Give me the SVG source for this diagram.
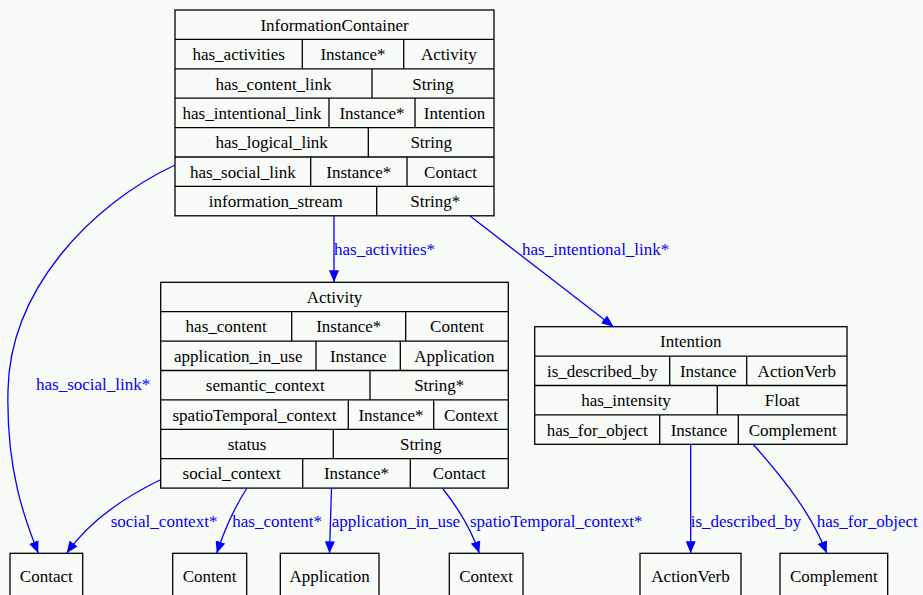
<svg xmlns="http://www.w3.org/2000/svg" width="923" height="595" viewBox="0 0 923 595">
<defs>
<marker id="ah" markerUnits="userSpaceOnUse" markerWidth="12" markerHeight="10" refX="12" refY="5" orient="auto" viewBox="0 0 12 10">
<path d="M0,0 L12,5 L0,10 z" fill="#0000ff"/>
</marker>
</defs>
<rect x="0" y="0" width="923" height="595" fill="#f9fbf9"/>

<g id="nodes" text-anchor="middle" fill="#000" stroke-width="1.3">
<g id="InformationContainer">
<rect fill="none" stroke="#000" x="175" y="10" width="319" height="205.8"/>
<path fill="none" stroke="#000" d="M175,39.4H494M175,68.8H494M175,98.2H494M175,127.6H494M175,157H494M175,186.4H494M302.3,39.4V68.8M403.7,39.4V68.8M372,68.8V98.2M329,98.2V127.6M415,98.2V127.6M368.3,127.6V157M310.7,157V186.4M407,157V186.4M376.7,186.4V215.8"/>
<text font-family="Liberation Serif, serif" font-size="17" x="334.5" y="30.7">InformationContainer</text>
<text font-family="Liberation Serif, serif" font-size="17" x="238.7" y="60.1">has_activities</text>
<text font-family="Liberation Serif, serif" font-size="17" x="353" y="60.1">Instance*</text>
<text font-family="Liberation Serif, serif" font-size="17" x="448.8" y="60.1">Activity</text>
<text font-family="Liberation Serif, serif" font-size="17" x="273.5" y="89.5">has_content_link</text>
<text font-family="Liberation Serif, serif" font-size="17" x="433" y="89.5">String</text>
<text font-family="Liberation Serif, serif" font-size="17" x="252" y="118.9">has_intentional_link</text>
<text font-family="Liberation Serif, serif" font-size="17" x="372" y="118.9">Instance*</text>
<text font-family="Liberation Serif, serif" font-size="17" x="454.5" y="118.9">Intention</text>
<text font-family="Liberation Serif, serif" font-size="17" x="271.7" y="148.3">has_logical_link</text>
<text font-family="Liberation Serif, serif" font-size="17" x="431.2" y="148.3">String</text>
<text font-family="Liberation Serif, serif" font-size="17" x="242.8" y="177.7">has_social_link</text>
<text font-family="Liberation Serif, serif" font-size="17" x="358.8" y="177.7">Instance*</text>
<text font-family="Liberation Serif, serif" font-size="17" x="450.5" y="177.7">Contact</text>
<text font-family="Liberation Serif, serif" font-size="17" x="275.8" y="207.1">information_stream</text>
<text font-family="Liberation Serif, serif" font-size="17" x="435.3" y="207.1">String*</text>
</g>

<g id="Activity">
<rect fill="none" stroke="#000" x="160.7" y="282.3" width="347.6" height="205.8"/>
<path fill="none" stroke="#000" d="M160.7,311.7H508.3M160.7,341.1H508.3M160.7,370.5H508.3M160.7,399.9H508.3M160.7,429.3H508.3M160.7,458.7H508.3M291.7,311.7V341.1M405.7,311.7V341.1M316,341.1V370.5M400.3,341.1V370.5M370,370.5V399.9M348.3,399.9V429.3M433.7,399.9V429.3M333.3,429.3V458.7M302.7,458.7V488.1M410.3,458.7V488.1"/>
<text font-family="Liberation Serif, serif" font-size="17" x="334.5" y="303">Activity</text>
<text font-family="Liberation Serif, serif" font-size="17" x="226.2" y="332.4">has_content</text>
<text font-family="Liberation Serif, serif" font-size="17" x="348.7" y="332.4">Instance*</text>
<text font-family="Liberation Serif, serif" font-size="17" x="457" y="332.4">Content</text>
<text font-family="Liberation Serif, serif" font-size="17" x="238.3" y="361.8">application_in_use</text>
<text font-family="Liberation Serif, serif" font-size="17" x="358.2" y="361.8">Instance</text>
<text font-family="Liberation Serif, serif" font-size="17" x="454.3" y="361.8">Application</text>
<text font-family="Liberation Serif, serif" font-size="17" x="265.3" y="391.2">semantic_context</text>
<text font-family="Liberation Serif, serif" font-size="17" x="439.2" y="391.2">String*</text>
<text font-family="Liberation Serif, serif" font-size="17" x="254.5" y="420.6">spatioTemporal_context</text>
<text font-family="Liberation Serif, serif" font-size="17" x="391" y="420.6">Instance*</text>
<text font-family="Liberation Serif, serif" font-size="17" x="471" y="420.6">Context</text>
<text font-family="Liberation Serif, serif" font-size="17" x="247" y="450">status</text>
<text font-family="Liberation Serif, serif" font-size="17" x="420.8" y="450">String</text>
<text font-family="Liberation Serif, serif" font-size="17" x="231.7" y="479.4">social_context</text>
<text font-family="Liberation Serif, serif" font-size="17" x="356.5" y="479.4">Instance*</text>
<text font-family="Liberation Serif, serif" font-size="17" x="459.3" y="479.4">Contact</text>
</g>

<g id="Intention">
<rect fill="none" stroke="#000" x="534.7" y="326.7" width="312.3" height="117.6"/>
<path fill="none" stroke="#000" d="M534.7,356.1H847M534.7,385.5H847M534.7,414.9H847M669.7,356.1V385.5M746.7,356.1V385.5M717.3,385.5V414.9M659.7,414.9V444.3M738.3,414.9V444.3"/>
<text font-family="Liberation Serif, serif" font-size="17" x="690.8" y="347.4">Intention</text>
<text font-family="Liberation Serif, serif" font-size="17" x="602.2" y="376.8">is_described_by</text>
<text font-family="Liberation Serif, serif" font-size="17" x="708.2" y="376.8">Instance</text>
<text font-family="Liberation Serif, serif" font-size="17" x="796.8" y="376.8">ActionVerb</text>
<text font-family="Liberation Serif, serif" font-size="17" x="626" y="406.2">has_intensity</text>
<text font-family="Liberation Serif, serif" font-size="17" x="782.2" y="406.2">Float</text>
<text font-family="Liberation Serif, serif" font-size="17" x="597.2" y="435.6">has_for_object</text>
<text font-family="Liberation Serif, serif" font-size="17" x="699" y="435.6">Instance</text>
<text font-family="Liberation Serif, serif" font-size="17" x="792.7" y="435.6">Complement</text>
</g>

<g id="Contact">
<rect fill="none" stroke="#000" x="10" y="553.3" width="72.7" height="46"/>
<text font-family="Liberation Serif, serif" font-size="17" x="46.3" y="582">Contact</text>
</g>
<g id="Content">
<rect fill="none" stroke="#000" x="172.7" y="553.3" width="74" height="46"/>
<text font-family="Liberation Serif, serif" font-size="17" x="209.7" y="582">Content</text>
</g>
<g id="Application">
<rect fill="none" stroke="#000" x="280.3" y="553.3" width="98.7" height="46"/>
<text font-family="Liberation Serif, serif" font-size="17" x="329.7" y="582">Application</text>
</g>
<g id="Context">
<rect fill="none" stroke="#000" x="449.3" y="553.3" width="73.7" height="46"/>
<text font-family="Liberation Serif, serif" font-size="17" x="486.2" y="582">Context</text>
</g>
<g id="ActionVerb">
<rect fill="none" stroke="#000" x="640" y="553.3" width="101" height="46"/>
<text font-family="Liberation Serif, serif" font-size="17" x="690.5" y="582">ActionVerb</text>
</g>
<g id="Complement">
<rect fill="none" stroke="#000" x="780" y="553.3" width="107.7" height="46"/>
<text font-family="Liberation Serif, serif" font-size="17" x="833.8" y="582">Complement</text>
</g>
</g>

<g id="connectors" fill="none" stroke="#0000ff" stroke-width="1.3">
<path marker-end="url(#ah)" d="M334,216 L334,282.3"/>
<path marker-end="url(#ah)" d="M470,216 L613.5,326.7"/>
<path marker-end="url(#ah)" d="M175,165 C90,205 10,290 8,390 C6,470 25,520 38.3,553.3"/>
<path marker-end="url(#ah)" d="M160,480 C125,497 90,520 66.7,553.3"/>
<path marker-end="url(#ah)" d="M247,488 C238,502 226,525 216.7,553.3"/>
<path marker-end="url(#ah)" d="M331.5,488 L329.5,553.3"/>
<path marker-end="url(#ah)" d="M443,489 C458,508 471,528 479.3,553.3"/>
<path marker-end="url(#ah)" d="M690.7,444.3 L690.7,553.3"/>
<path marker-end="url(#ah)" d="M753,444.3 C785,480 812,515 826.7,553.3"/>
<g fill="#0000ff" stroke="none">
<text font-family="Liberation Serif, serif" font-size="17" x="334" y="255">has_activities*</text>
<text font-family="Liberation Serif, serif" font-size="17" x="522" y="255">has_intentional_link*</text>
<text font-family="Liberation Serif, serif" font-size="17" x="36" y="390">has_social_link*</text>
<text font-family="Liberation Serif, serif" font-size="17" x="110.7" y="527">social_context*</text>
<text font-family="Liberation Serif, serif" font-size="17" x="232.3" y="527">has_content*</text>
<text font-family="Liberation Serif, serif" font-size="17" x="331.7" y="527">application_in_use</text>
<text font-family="Liberation Serif, serif" font-size="17" x="470" y="527">spatioTemporal_context*</text>
<text font-family="Liberation Serif, serif" font-size="17" x="690.7" y="527">is_described_by</text>
<text font-family="Liberation Serif, serif" font-size="17" x="816.7" y="527">has_for_object</text>
</g>
</g>
</svg>
